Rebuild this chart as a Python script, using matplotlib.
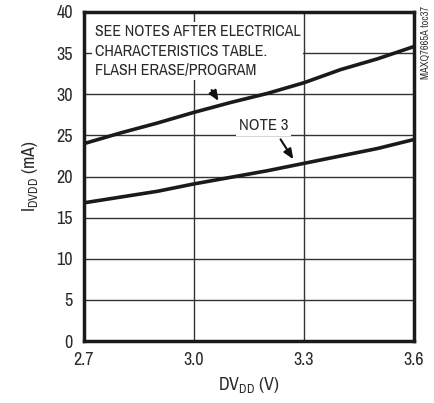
import matplotlib
matplotlib.use("Agg")
import matplotlib.pyplot as plt

plt.rcParams['font.family'] = ['Archivo Narrow', 'Liberation Sans', 'DejaVu Sans']
plt.rcParams['mathtext.fontset'] = 'custom'
plt.rcParams['mathtext.rm'] = 'Archivo Narrow'

# supply voltage (V)
dvdd = [2.7, 2.8, 2.9, 3.0, 3.1, 3.2, 3.3, 3.4, 3.5, 3.6]
# flash erase/program current (mA)
i_flash = [24.0, 25.3, 26.5, 27.8, 29.0, 30.1, 31.4, 33.0, 34.3, 35.8]
# note 3 current (mA)
i_note3 = [16.8, 17.5, 18.2, 19.1, 19.9, 20.7, 21.6, 22.5, 23.4, 24.5]

xticks = [2.7, 3.0, 3.3, 3.6]
xticklabels = ['2.7', '3.0', '3.3', '3.6']
yticks = [0, 5, 10, 15, 20, 25, 30, 35, 40]

fig = plt.figure(figsize=(4.35, 4.03), dpi=100)
ax = fig.add_axes([84/435, 1 - 341/403, 330/435, 329/403])

ax.plot(dvdd, i_flash, color='#1a1a1a', lw=2.6, zorder=3, solid_capstyle='butt')
ax.plot(dvdd, i_note3, color='#1a1a1a', lw=2.6, zorder=3, solid_capstyle='butt')

ax.set_xlim(2.7, 3.6)
ax.set_ylim(0, 40)
ax.set_xticks(xticks)
ax.set_xticklabels(xticklabels)
ax.set_yticks(yticks)
ax.grid(True, color='#333333', lw=1.0, zorder=1)
ax.tick_params(length=0, labelsize=13, pad=8, colors='#2a2a2a')
for s in ax.spines.values():
    s.set_linewidth(2.5)
    s.set_color('#1a1a1a')

ax.set_xlabel('DV$_{\\mathregular{DD}}$ (V)', fontsize=13, color='#2a2a2a', labelpad=5)
ax.set_ylabel('I$_{\\mathregular{DVDD}}$ (mA)', fontsize=13, color='#2a2a2a', labelpad=12)

box = dict(facecolor='white', edgecolor='none', pad=2)
ax.text(2.73, 38.5, 'SEE NOTES AFTER ELECTRICAL\nCHARACTERISTICS TABLE.\nFLASH ERASE/PROGRAM',
        fontsize=11.5, color='#2a2a2a', va='top', ha='left', linespacing=1.35,
        bbox=box, zorder=4)
ax.text(3.19, 26.2, 'NOTE 3', fontsize=12, color='#2a2a2a', ha='center', va='center',
        bbox=box, zorder=4)

ax.annotate('', xy=(3.071, 28.9), xytext=(3.044, 30.8),
            arrowprops=dict(arrowstyle='-|>,head_length=0.6,head_width=0.25',
                            color='#111111', lw=1.5), zorder=5)
ax.annotate('', xy=(3.275, 21.8), xytext=(3.232, 24.8),
            arrowprops=dict(arrowstyle='-|>,head_length=0.6,head_width=0.25',
                            color='#111111', lw=1.5), zorder=5)

fig.text(426/435, 1 - 42/403, 'MAXQ7665A toc37', rotation=90, fontsize=7.5,
         color='#333333', ha='center', va='center')

fig.savefig('out.png', dpi=100)
